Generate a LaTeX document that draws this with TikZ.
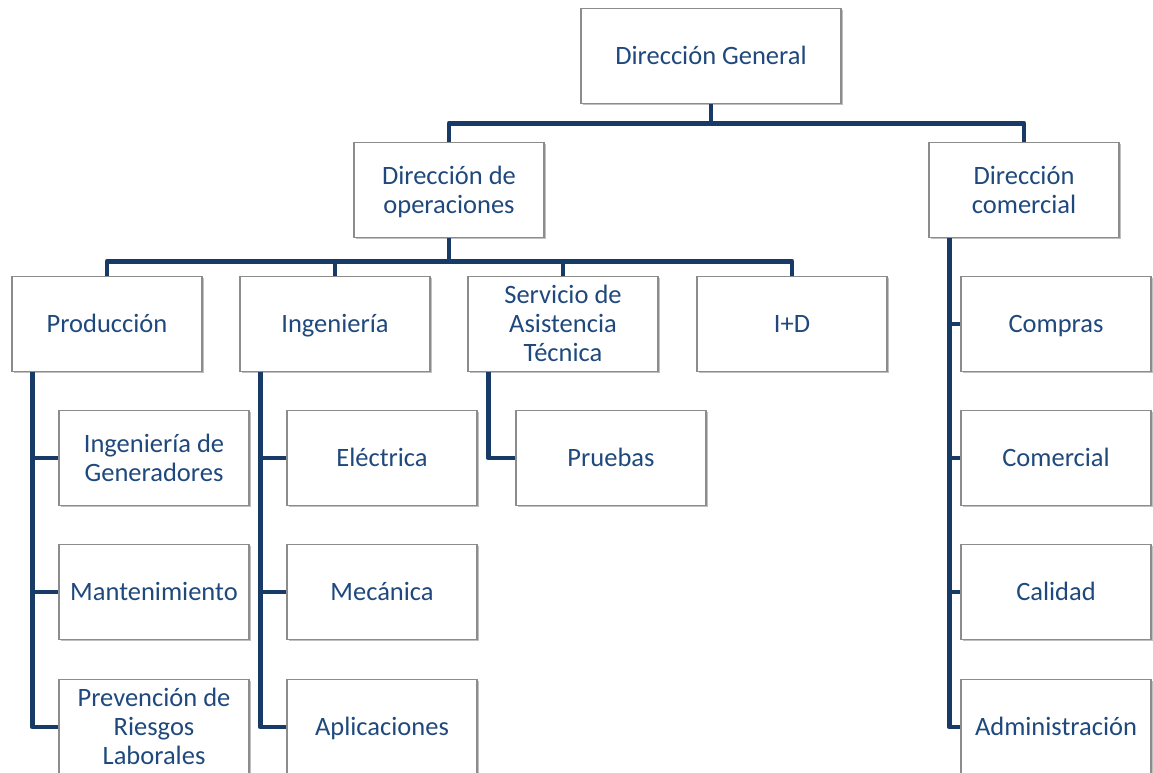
\documentclass[tikz,border=0pt]{standalone}
\usepackage{fontspec}
\setmainfont{Carlito}
\usetikzlibrary{shadows,calc}
\definecolor{txt}{RGB}{31,73,125}
\definecolor{ln}{RGB}{24,58,102}
\definecolor{bd}{RGB}{140,140,140}
\newcommand\tup{\rule{0pt}{26pt}}
\tikzset{
  box/.style={draw=bd, line width=1.3pt, fill=white, minimum width=190pt, minimum height=95pt,
    inner sep=0pt, align=center, text=txt, font=\fontsize{26.5}{29}\selectfont,
    execute at begin node={\rule{0pt}{26pt}}, execute at end node={\strut},
    drop shadow={shadow xshift=1.8pt, shadow yshift=-1.8pt, opacity=0.35, fill=black!70}},
  bus/.style={draw=ln, line width=4.8pt, line join=round}
}
\begin{document}
\begin{tikzpicture}[x=1pt,y=-1pt]
\useasboundingbox (0,0) rectangle (1153,773);
\clip (0,0) rectangle (1153,773);
\fill[white] (0,0) rectangle (1153,773);
% nodes
\node[box, minimum width=260pt] (dg) at (711,56) {Dirección General};
\node[box] (dop) at (449,190) {\tup Dirección de\\operaciones};
\node[box] (dco) at (1024,190) {\tup Dirección\\comercial};
\node[box] (prod) at (107,324) {Producción};
\node[box] (ing) at (335,324) {Ingeniería};
\node[box] (sat) at (563,324) {\tup Servicio de\\Asistencia\\Técnica};
\node[box] (id) at (792,324) {I+D};
\node[box] (igen) at (154,458) {\tup Ingeniería de\\Generadores};
\node[box] (mant) at (154,592) {Mantenimiento};
\node[box] (prev) at (154,727) {\tup Prevención de\\Riesgos\\Laborales};
\node[box] (ele) at (382,458) {Eléctrica};
\node[box] (mec) at (382,592) {Mecánica};
\node[box] (apl) at (382,727) {Aplicaciones};
\node[box] (pru) at (611,458) {Pruebas};
\node[box] (com) at (1056,324) {Compras};
\node[box] (cml) at (1056,458) {Comercial};
\node[box] (cal) at (1056,592) {Calidad};
\node[box] (adm) at (1056,727) {Administración};
% connectors
\coordinate (b0) at ($(dg.south)+(0,19)$);
\draw[bus] (dg.south) -- (b0) -| (dop.north);
\draw[bus] (b0) -| (dco.north);
\coordinate (b1) at ($(dop.south)+(0,23)$);
\draw[bus] (dop.south) -- (b1) -| (prod.north);
\draw[bus] (b1) -| (ing.north);
\draw[bus] (b1) -| (sat.north);
\draw[bus] (b1) -| (id.north);
\coordinate (p0) at ($(prod.south west)+(21,0)$);
\draw[bus] (p0) |- (igen.west);
\draw[bus] (p0) |- (mant.west);
\draw[bus] (p0) |- (prev.west);
\coordinate (i0) at ($(ing.south west)+(21,0)$);
\draw[bus] (i0) |- (ele.west);
\draw[bus] (i0) |- (mec.west);
\draw[bus] (i0) |- (apl.west);
\coordinate (s0) at ($(sat.south west)+(21,0)$);
\draw[bus] (s0) |- (pru.west);
\coordinate (c0) at ($(dco.south west)+(21,0)$);
\draw[bus] (c0) |- (com.west);
\draw[bus] (c0) |- (cml.west);
\draw[bus] (c0) |- (cal.west);
\draw[bus] (c0) |- (adm.west);
\end{tikzpicture}
\end{document}
